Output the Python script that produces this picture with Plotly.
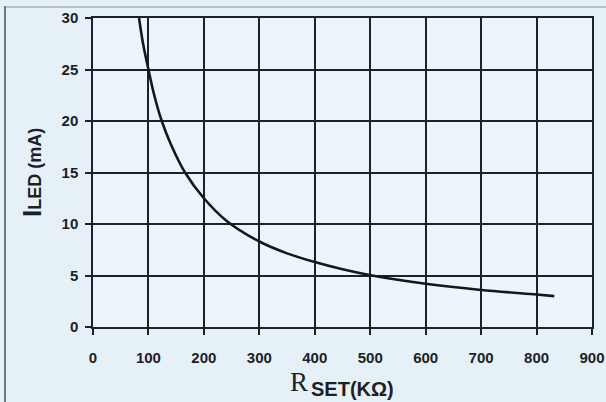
import plotly.graph_objects as go

# Values
r_set = [83, 90, 100, 110, 124, 140, 166, 200, 240, 300, 350, 400, 450, 503, 600, 700, 800, 832]
i_led = [30, 27.6, 25, 22.6, 20, 17.8, 15, 12.5, 10.35, 8.3, 7.15, 6.3, 5.6, 5.0, 4.2, 3.6, 3.15, 3.0]

x_ticks = [0, 100, 200, 300, 400, 500, 600, 700, 800, 900]
y_ticks = [0, 5, 10, 15, 20, 25, 30]

ink = "#1b2130"
font_fam = "Liberation Sans, Arial, sans-serif"

W, H = 606, 402
ML, MR, MT, MB = 93, 14, 18, 75
PW = W - ML - MR
PH = H - MT - MB


def px(xpage):
    return (xpage - ML) / PW


def py(ypage):
    return 1 - (ypage - MT) / PH


fig = go.Figure()
fig.add_trace(go.Scatter(
    x=r_set, y=i_led, mode="lines",
    line=dict(color="#15171d", width=2.6, shape="spline", smoothing=1.0),
    showlegend=False, hoverinfo="skip",
))

axis_common = dict(
    automargin=False,
    showgrid=True, gridcolor=ink, gridwidth=1.5,
    showline=True, linecolor=ink, linewidth=1.5, mirror=True,
    ticks="outside", ticklen=6, tickcolor=ink, tickwidth=1.5,
    tickfont=dict(size=15, family=font_fam, weight="bold", color="#1c1f26"),
    zeroline=False,
)

fig.update_layout(
    width=W, height=H,
    margin=dict(l=ML, r=MR, t=MT, b=MB, autoexpand=False),
    paper_bgcolor="#e6f0f7",
    plot_bgcolor="#eef5fa",
    font=dict(family=font_fam, color="#1c1f26"),
    xaxis=dict(range=[0, 900], tickvals=x_ticks, ticktext=[str(v) for v in x_ticks],
               ticklabelstandoff=10, **axis_common),
    yaxis=dict(range=[0, 30], tickvals=y_ticks, ticktext=[str(v) for v in y_ticks],
               ticklabelstandoff=4, **axis_common),
    annotations=[
        # y-axis title
        dict(text="<b><span style='font-size:26px'>I</span>LED (mA)</b>",
             xref="paper", yref="paper", x=px(32), y=py(173),
             xanchor="center", yanchor="middle", textangle=-90, showarrow=False,
             font=dict(size=18, family=font_fam, color="#1c1f26")),
        # x-axis title: serif R + bold lowered SET(KΩ)
        dict(text="R", xref="paper", yref="paper", x=px(299), y=py(382),
             xanchor="center", yanchor="middle", showarrow=False,
             font=dict(size=27, family="Liberation Serif, Times New Roman, serif", color="#1c1f26")),
        dict(text="<b>SET(KΩ)</b>", xref="paper", yref="paper", x=px(309), y=py(389),
             xanchor="left", yanchor="middle", showarrow=False,
             font=dict(size=20, family=font_fam, color="#1c1f26")),
    ],
    shapes=[
        dict(type="line", xref="paper", yref="paper", x0=px(5), x1=px(5), y0=py(6), y1=py(402),
             line=dict(color="#4a4f58", width=1.5)),
        dict(type="line", xref="paper", yref="paper", x0=px(5), x1=px(606), y0=py(7), y1=py(7),
             line=dict(color="#8a9098", width=1)),
    ],
)

fig.write_html(
    "out.html",
    config={"displayModeBar": False},
    post_script="document.body.style.margin='0';document.body.style.overflow='hidden';",
)
